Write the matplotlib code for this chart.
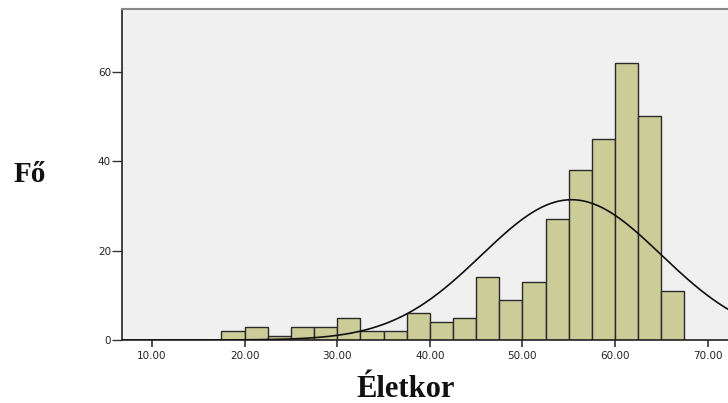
import numpy as np
import matplotlib
matplotlib.use("Agg")
import matplotlib.pyplot as plt

# ---- data ----
bin_edges = [17.5, 20.0, 22.5, 25.0, 27.5, 30.0, 32.5, 35.0, 37.5, 40.0, 42.5,
             45.0, 47.5, 50.0, 52.5, 55.0, 57.5, 60.0, 62.5, 65.0, 67.5]
counts = [2, 3, 1, 3, 3, 5, 2, 2, 6, 4, 5, 14, 9, 13, 27, 38, 45, 62, 50, 11]
x_ticks = [10, 20, 30, 40, 50, 60, 70]
x_tick_labels = ["10.00", "20.00", "30.00", "40.00", "50.00", "60.00", "70.00"]
y_ticks = [0, 20, 40, 60]
fit_mean = 55.3
fit_sd = 9.7

W, H = 728, 403
fig = plt.figure(figsize=(W / 100, H / 100), dpi=100)
fig.patch.set_facecolor("white")

ax = fig.add_axes([122 / W, (H - 340) / H, 1 - 122 / W, (340 - 9) / H])
ax.set_facecolor("#f0f0f0")

edges = np.array(bin_edges)
widths = np.diff(edges)
ax.bar(edges[:-1], counts, width=widths, align="edge", color="#cccc99",
       edgecolor="#2a2a2a", linewidth=1.0, zorder=2)

ax.set_xlim(6.76, 72.2)
ax.set_ylim(0, 74)

xs = np.linspace(6.76, 72.2, 400)
n = sum(counts)
bw = widths[0]
ys = n * bw / (fit_sd * np.sqrt(2 * np.pi)) * np.exp(-0.5 * ((xs - fit_mean) / fit_sd) ** 2)
ax.plot(xs, ys, color="#111111", linewidth=1.2, zorder=3)

ax.set_xticks(x_ticks)
ax.set_xticklabels(x_tick_labels)
ax.set_yticks(y_ticks)
ax.set_yticklabels([str(v) for v in y_ticks])

for lab in ax.get_xticklabels() + ax.get_yticklabels():
    lab.set_fontfamily("DejaVu Sans")
    lab.set_fontsize(7.5)
    lab.set_color("#222222")

ax.tick_params(axis="x", direction="out", length=5, width=1.2, pad=3, color="#333333")
ax.tick_params(axis="y", direction="out", length=7, width=1.0, pad=1, color="#333333")

ax.spines["right"].set_visible(False)
ax.spines["top"].set_color("#888888")
ax.spines["top"].set_linewidth(1.5)
ax.spines["left"].set_color("#222222")
ax.spines["bottom"].set_color("#222222")
ax.spines["left"].set_linewidth(1.2)
ax.spines["bottom"].set_linewidth(1.2)

fig.text(29.5 / W, 1 - 174 / H, "Fő", fontfamily="Liberation Serif", fontweight="bold",
         fontsize=21, ha="center", va="center", color="#111111")
fig.text(405.5 / W, 1 - 397 / H, "Életkor", fontfamily="Liberation Serif", fontweight="bold",
         fontsize=22, ha="center", va="baseline", color="#111111")

fig.savefig("out.png", dpi=100, facecolor="white")
